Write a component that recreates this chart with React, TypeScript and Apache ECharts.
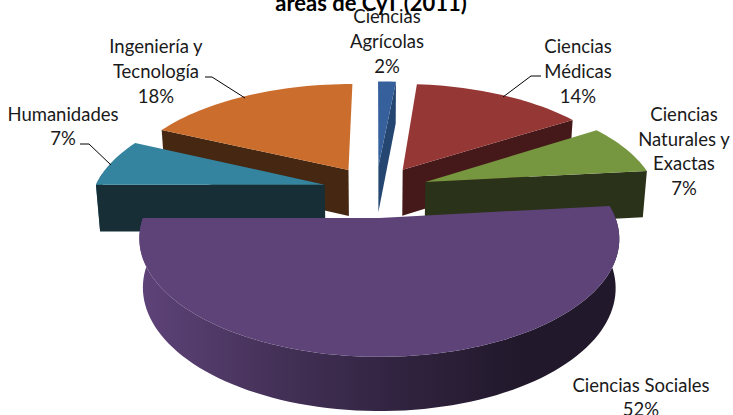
import React, { useEffect, useRef } from "react";
import * as echarts from "echarts";

const titleText = "áreas de CyT (2011)";
const categories = ["Ciencias\nAgrícolas", "Ciencias\nMédicas", "Ciencias\nNaturales y\nExactas", "Ciencias Sociales", "Humanidades", "Ingeniería y\nTecnología"];
const values = [1.5, 14.4, 7.4, 51.7, 7, 18];
const topColors = ["#35609b", "#953735", "#76963f", "#5e4379", "#34839f", "#cb6d2c"];
const wallColors = ["#264672", "#45191a", "#2b321a", "#21182b", "#172e36", "#452712"];
const labelCenters = [[387, 41], [578, 71], [684, 151], [641, 397], [63, 126], [156, 71]];
const leaderLines = [
  [[541, 76], [531, 76], [503, 97]],
  [[205, 77], [212, 77], [245, 98]],
  [[80, 144], [89, 144], [111, 165]],
];
const explodes = [0.23, 0.23, 0.23, 0.25, 0.23, 0.23];
const radii = [1, 1, 1, 0.98, 1, 1];

const CX = 376, CY = 190, RX = 230.7, RY = 107, PERSP = 0.172, DEPTH = 47, BASE_SHRINK = 0.985;
const FONT = "Lato, Carlito, sans-serif";
const rad = (d: number) => (d * Math.PI) / 180;

const total = values.reduce((a, b) => a + b, 0);
const slices = (() => {
  let acc = 0;
  return values.map((v) => {
    const start = (acc / total) * 360;
    acc += v;
    const end = (acc / total) * 360;
    return { start, end, mid: (start + end) / 2 };
  });
})();
const rank = slices
  .map((s, i) => ({ i, c: Math.cos(rad(s.mid)) }))
  .sort((a, b) => b.c - a.c)
  .map((o) => o.i);

function project(i: number, angle: number, r: number, base: boolean) {
  const s = slices[i];
  const e = explodes[i];
  const rr = r * radii[i];
  const X = e * Math.sin(rad(s.mid)) + rr * Math.sin(rad(angle));
  const V = -e * Math.cos(rad(s.mid)) - rr * Math.cos(rad(angle));
  const w = 1 / (1 - PERSP * V);
  let x = RX * X * w;
  let y = CY + RY * V * w;
  if (base) {
    x *= BASE_SHRINK;
    y += DEPTH * Math.pow(w, 0.6);
  }
  return [CX + x, y];
}

function arcAngles(i: number) {
  const s = slices[i];
  const n = Math.max(2, Math.ceil((s.end - s.start) / 2));
  const out: number[] = [];
  for (let k = 0; k <= n; k++) out.push(s.start + ((s.end - s.start) * k) / n);
  return out;
}

function renderSlice(params: any) {
  const i = params.dataIndex;
  const s = slices[i];
  const z = rank.indexOf(i) * 10;
  const angles = arcAngles(i);
  const topArc = angles.map((a) => project(i, a, 1, false));
  const frontAngles = angles.filter((a) => Math.cos(rad(a)) < 0.12);
  const apexTop = project(i, 0, 0, false);
  const apexBase = project(i, 0, 0, true);
  const wallGrad = new echarts.graphic.LinearGradient(0, 0, 1, 0, [
    { offset: 0, color: topColors[i] },
    { offset: 0.3, color: echarts.color.lerp(0.45, [topColors[i], wallColors[i]]) },
    { offset: 0.55, color: echarts.color.lerp(0.75, [topColors[i], wallColors[i]]) },
    { offset: 0.8, color: wallColors[i] },
    { offset: 1, color: wallColors[i] },
  ]);
  const poly = (points: number[][], fill: any, z2: number) => ({
    type: "polygon",
    z2,
    silent: true,
    shape: { points },
    style: { fill },
  });
  const [lx, ly] = labelCenters[i];
  const children: any[] = [];
  // Only the part of the rim that faces the viewer gets an outer wall.
  if (frontAngles.length > 1) {
    const rimTop = frontAngles.map((a) => project(i, a, 1, false));
    const rimBase = frontAngles.map((a) => project(i, a, 1, true));
    children.push(poly([...rimTop, ...rimBase.reverse()], wallGrad, z));
  }
  // A radial wall shows only when its outward normal faces the viewer.
  if (Math.sin(rad(s.end)) > 0.01) {
    children.push(poly([project(i, s.end, 1, false), apexTop, apexBase, project(i, s.end, 1, true)], wallColors[i], z + 1));
  }
  if (-Math.sin(rad(s.start)) > 0.01) {
    children.push(poly([project(i, s.start, 1, false), apexTop, apexBase, project(i, s.start, 1, true)], wallColors[i], z + 2));
  }
  children.push(poly([apexTop, ...topArc], topColors[i], z + 3));
  children.push({
    type: "text",
    z2: 100,
    silent: true,
    style: {
      text: `${categories[i]}\n${Math.round(values[i])}%`,
      x: lx,
      y: ly,
      align: "center",
      verticalAlign: "middle",
      fill: "#1a1a1a",
      font: `18.5px ${FONT}`,
      lineHeight: 24.6,
    },
  });
  return { type: "group", children };
}

export default function App() {
  const ref = useRef<HTMLDivElement>(null);
  useEffect(() => {
    document.body.style.margin = "0";
    const chart = echarts.init(ref.current!, undefined, { renderer: "svg" });
    chart.setOption({
      animation: false,
      backgroundColor: "#ffffff",
      graphic: [
        {
          type: "text",
          z: 1,
          silent: true,
          style: {
            text: titleText,
            x: 371,
            y: 2,
            align: "center",
            verticalAlign: "middle",
            fill: "#000000",
            font: `bold 22px ${FONT}`,
          },
        },
        ...leaderLines.map((pts) => ({
          type: "polyline",
          z: 5,
          silent: true,
          shape: { points: pts },
          style: { stroke: "#000000", lineWidth: 1, fill: "none" },
        })),
      ],
      series: [
        {
          type: "custom",
          coordinateSystem: "none",
          clip: false,
          z: 3,
          data: values,
          renderItem: renderSlice,
        },
      ],
    });
    return () => chart.dispose();
  }, []);
  return <div ref={ref} style={{ width: 733, height: 415 }} />;
}
